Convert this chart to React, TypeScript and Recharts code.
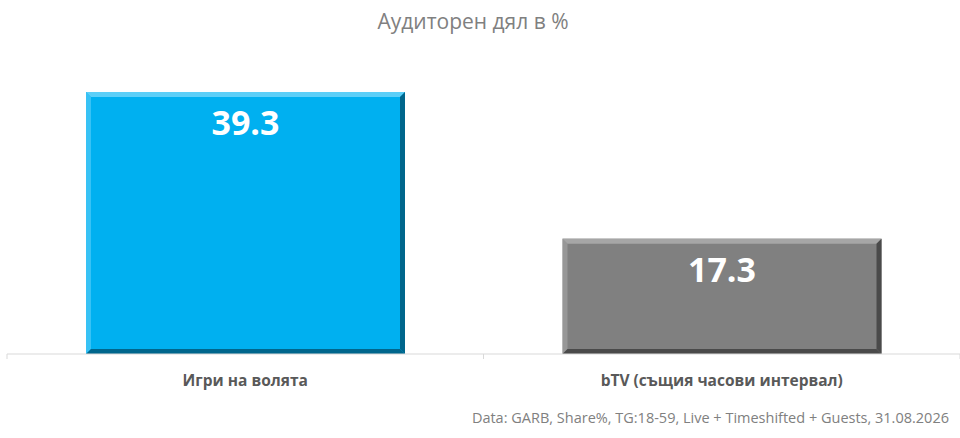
import { BarChart, Bar, XAxis, YAxis, Cell, LabelList } from "recharts";

const categories = ["Игри на волята", "bTV (същия часови интервал)"];
const shares = [39.3, 17.3];
const barColors = ["#00B0F0", "#808080"];
const lightEdge = ["#5CCFF8", "#A6A6A6"];
const darkEdge = ["#00668C", "#4A4A4A"];

const data = categories.map((name, i) => ({ name, share: shares[i] }));

// bar with a simple bevel: light top/left, dark right/bottom
const BevelBar = (props: any) => {
  const { x, y, width, height, index } = props;
  const b = 5;
  return (
    <g>
      <rect x={x} y={y} width={width} height={height} fill={barColors[index]} />
      <polygon points={`${x},${y} ${x + width},${y} ${x + width - b},${y + b} ${x + b},${y + b}`} fill={lightEdge[index]} />
      <polygon points={`${x},${y} ${x + b},${y + b} ${x + b},${y + height - b} ${x},${y + height}`} fill={lightEdge[index]} opacity={0.6} />
      <polygon points={`${x + width},${y} ${x + width},${y + height} ${x + width - b},${y + height - b} ${x + width - b},${y + b}`} fill={darkEdge[index]} />
      <polygon points={`${x},${y + height} ${x + width},${y + height} ${x + width - b},${y + height - b} ${x + b},${y + height - b}`} fill={darkEdge[index]} />
    </g>
  );
};

const ValueLabel = (props: any) => {
  const { x, y, width, value } = props;
  return (
    <text x={x + width / 2} y={y + 43} textAnchor="middle" fill="#FFFFFF" fontSize={34} fontWeight={700} fontFamily="'Open Sans', sans-serif">
      {value}
    </text>
  );
};

// category label plus the short boundary ticks either side of the band
const CategoryTick = (props: any) => {
  const { x, y, payload } = props;
  const half = (960 - 7) / categories.length / 2;
  return (
    <g>
      <line x1={x - half} x2={x - half} y1={y - 8} y2={y - 3} stroke="#D9D9D9" />
      <line x1={x + half} x2={x + half} y1={y - 8} y2={y - 3} stroke="#D9D9D9" />
      <text x={x} y={y + 24} textAnchor="middle" fill="#595959" fontSize={15.5} fontWeight={700} fontFamily="'Open Sans', sans-serif">
        {payload.value}
      </text>
    </g>
  );
};

export default function App() {
  return (
    <div style={{ position: "absolute", left: 0, top: 0, width: 960, height: 438, background: "#FFFFFF", fontFamily: "'Open Sans', sans-serif" }}>
      <div style={{ position: "absolute", top: 7, left: 0, width: 946, textAlign: "center", fontSize: 21, color: "#808080" }}>
        Аудиторен дял в %
      </div>
      <BarChart width={960} height={438} data={data} margin={{ top: 54, right: 0, left: 7, bottom: 0 }}>
        <YAxis hide domain={[0, 45]} />
        <XAxis
          dataKey="name"
          axisLine={{ stroke: "#D9D9D9" }}
          tickLine={false}
          tick={<CategoryTick />}
          height={84}
          interval={0}
        />
        <Bar dataKey="share" barSize={319} shape={<BevelBar />} isAnimationActive={false}>
          {data.map((d, i) => (
            <Cell key={d.name} fill={barColors[i]} />
          ))}
          <LabelList dataKey="share" content={<ValueLabel />} />
        </Bar>
      </BarChart>
      <div style={{ position: "absolute", top: 408, right: 11, fontSize: 14.5, color: "#808080", whiteSpace: "nowrap" }}>
        Data: GARB, Share%, TG:18-59, Live + Timeshifted + Guests, 31.08.2026
      </div>
    </div>
  );
}
